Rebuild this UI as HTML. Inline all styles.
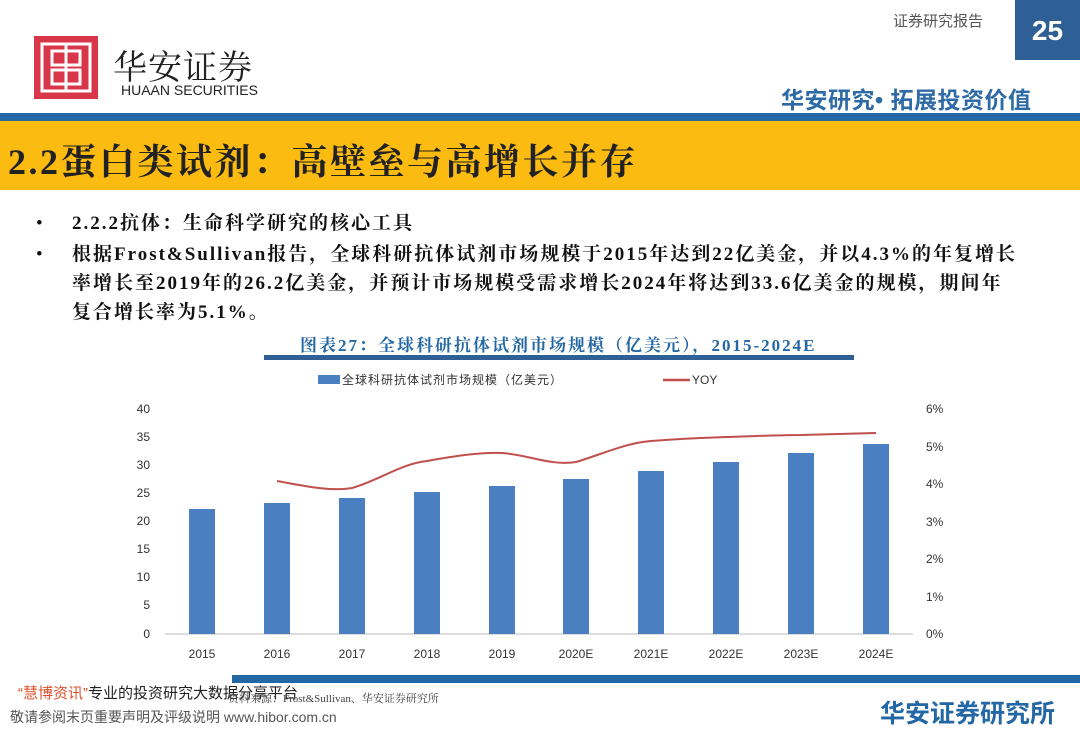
<!DOCTYPE html>
<html><head><meta charset="utf-8"><style>
body{margin:0;width:1080px;height:737px;background:#fff;position:relative;overflow:hidden;font-family:"Liberation Serif","Noto Serif CJK SC",serif}
.a{position:absolute;white-space:nowrap}
.s{font-family:"Liberation Sans","Noto Sans CJK SC",sans-serif}
</style></head><body>
<div class="a" style="left:1015px;top:0;width:65px;height:60px;background:#2e5f95;color:#fff;font:bold 28px 'Liberation Sans',sans-serif;text-align:center;line-height:62px">25</div>
<div class="a s" style="left:893px;top:10px;font-size:15px;color:#555">证券研究报告</div>
<svg class="a" style="left:34px;top:36px" width="64" height="63" viewBox="0 0 64 63">
<rect width="64" height="63" fill="#d8374a"/>
<g fill="none" stroke="#fff" stroke-width="3">
<rect x="8" y="8" width="48" height="47"/><rect x="18" y="15" width="28" height="14"/><rect x="18" y="34" width="28" height="14"/>
<line x1="32" y1="8" x2="32" y2="55"/></g></svg>
<div class="a" style="left:113px;top:40px;font-size:34px;color:#222;font-family:'Noto Serif CJK SC',serif;letter-spacing:1px">华安证券</div>
<div class="a" style="left:121px;top:82px;font-size:14px;color:#222;font-family:'Liberation Sans',sans-serif">HUAAN SECURITIES</div>
<div class="a s" style="left:781px;top:81px;font-size:23px;font-weight:bold;color:#2e6aa5;letter-spacing:0.5px">华安研究• 拓展投资价值</div>
<div class="a" style="left:0;top:113px;width:1080px;height:8px;background:#2467a5"></div>
<div class="a" style="left:0;top:121px;width:1080px;height:69px;background:#fbbb10"></div>
<div class="a" style="left:8px;top:134px;font-size:36px;font-weight:bold;color:#222;letter-spacing:2.5px">2.2蛋白类试剂：高壁垒与高增长并存</div>
<div class="a" style="left:36px;top:209px;font-size:19px;color:#111;line-height:29px">•</div>
<div class="a" style="left:72px;top:209px;font-size:19px;color:#111;line-height:29px;letter-spacing:2px;font-weight:bold">2.2.2抗体：生命科学研究的核心工具</div>
<div class="a" style="left:36px;top:240px;font-size:19px;color:#111;line-height:29px">•</div>
<div class="a" style="left:72px;top:240px;font-size:19px;color:#111;line-height:29px;font-weight:bold;letter-spacing:2px">根据Frost&amp;Sullivan报告，全球科研抗体试剂市场规模于2015年达到22亿美金，并以4.3%的年复增长<br>率增长至2019年的26.2亿美金，并预计市场规模受需求增长2024年将达到33.6亿美金的规模，期间年<br>复合增长率为5.1%。</div>
<div class="a" style="left:300px;top:331px;font-size:17px;font-weight:bold;color:#2467a5;letter-spacing:2px">图表27：全球科研抗体试剂市场规模（亿美元），2015-2024E</div>
<div class="a" style="left:264px;top:355px;width:590px;height:5px;background:#2e5f95"></div>
<svg class="a" style="left:0;top:0" width="1080" height="737">
<g font-family="Liberation Sans, sans-serif" font-size="12" fill="#333">
<rect x="318" y="375" width="22" height="9" fill="#4a7fc1"/>
<text x="342" y="384" font-family="Noto Sans CJK SC" font-size="12" letter-spacing="1">全球科研抗体试剂市场规模（亿美元）</text>
<line x1="663" y1="380" x2="690" y2="380" stroke="#c0504d" stroke-width="2.5"/>
<text x="692" y="384">YOY</text>
<text x="150" y="413" text-anchor="end">40</text><text x="150" y="441" text-anchor="end">35</text>
<text x="150" y="469" text-anchor="end">30</text><text x="150" y="497" text-anchor="end">25</text>
<text x="150" y="525" text-anchor="end">20</text><text x="150" y="553" text-anchor="end">15</text>
<text x="150" y="581" text-anchor="end">10</text><text x="150" y="609" text-anchor="end">5</text>
<text x="150" y="638" text-anchor="end">0</text>
<text x="926" y="413">6%</text><text x="926" y="451">5%</text><text x="926" y="488">4%</text>
<text x="926" y="526">3%</text><text x="926" y="563">2%</text><text x="926" y="601">1%</text><text x="926" y="638">0%</text>
<line x1="165" y1="634" x2="913" y2="634" stroke="#bbb"/>
<g fill="#4a7fc1">
<rect x="189" y="509" width="26" height="125"/><rect x="264" y="503" width="26" height="131"/>
<rect x="339" y="498" width="26" height="136"/><rect x="414" y="492" width="26" height="142"/>
<rect x="489" y="486" width="26" height="148"/><rect x="563" y="479" width="26" height="155"/>
<rect x="638" y="471" width="26" height="163"/><rect x="713" y="462" width="26" height="172"/>
<rect x="788" y="453" width="26" height="181"/><rect x="863" y="444" width="26" height="190"/>
</g>
<path d="M277,481 C300,485 330,492 352,488 C380,480 400,464 427,461 C455,456 480,452 502,453 C530,455 550,466 576,462 C600,455 625,443 651,441 C690,438 700,438 726,437 C760,436 780,435 801,435 L876,433" fill="none" stroke="#c0504d" stroke-width="2"/>
<g text-anchor="middle">
<text x="202" y="658">2015</text><text x="277" y="658">2016</text><text x="352" y="658">2017</text>
<text x="427" y="658">2018</text><text x="502" y="658">2019</text><text x="576" y="658">2020E</text>
<text x="651" y="658">2021E</text><text x="726" y="658">2022E</text><text x="801" y="658">2023E</text><text x="876" y="658">2024E</text>
</g></g></svg>
<div class="a" style="left:232px;top:675px;width:848px;height:8px;background:#2467a5"></div>
<div class="a s" style="left:18px;top:682px;font-size:15px;color:#222"><span style="color:#e0522d">“慧博资讯”</span>专业的投资研究大数据分享平台</div>
<div class="a" style="left:228px;top:690px;font-size:11px;color:#444">资料来源：Frost&amp;Sullivan、华安证券研究所</div>
<div class="a s" style="left:10px;top:707px;font-size:14px;color:#555">敬请参阅末页重要声明及评级说明 www.hibor.com.cn</div>
<div class="a s" style="left:880px;top:694px;font-size:25px;font-weight:bold;color:#2467a5">华安证券研究所</div>
</body></html>
